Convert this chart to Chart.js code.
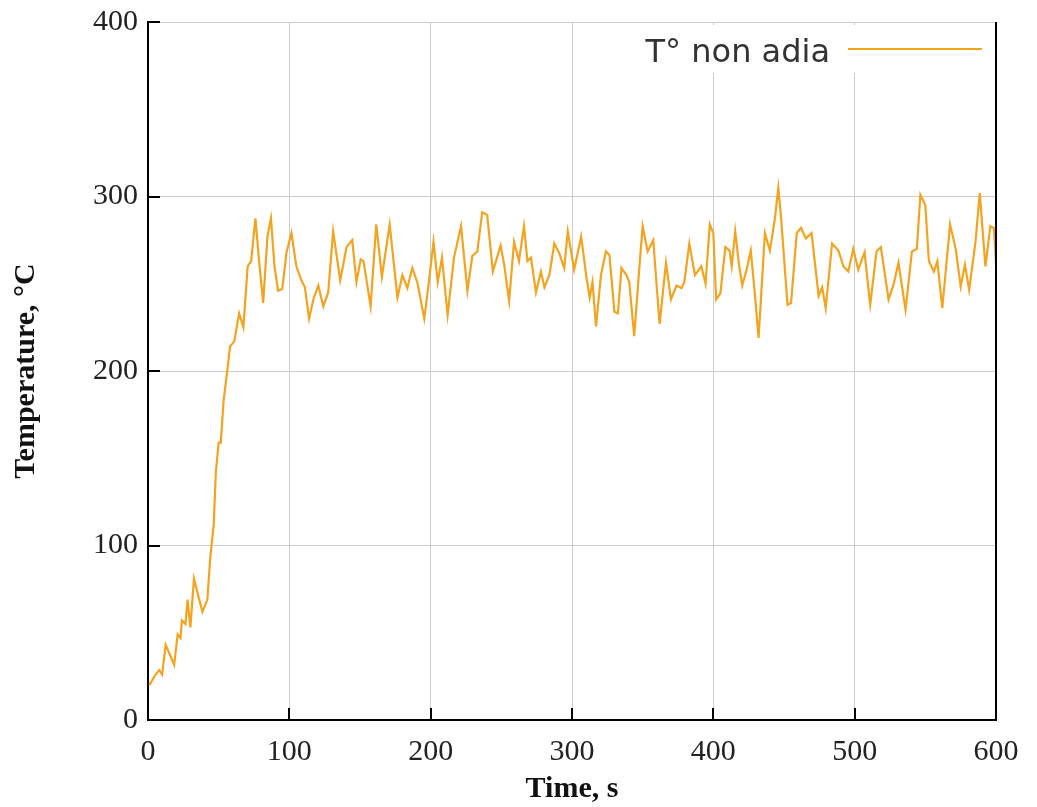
<!DOCTYPE html>
<html lang="en">
<head>
    <meta charset="UTF-8">
    <title>Temperature non adia</title>
    <script src="https://cdn.jsdelivr.net/npm/chart.js"></script>
    <style>
        html, body { margin: 0; padding: 0; background: #fff; }
        #wrap { width: 1037px; height: 807px; }
    </style>
</head>
<body>
    <div id="wrap"><canvas id="tempChart" width="1037" height="807"></canvas></div>

    <script>
        // time (s) and temperature (°C)
        const timeS = [
            1, 5, 8, 10, 12.5, 16, 18.5, 21, 23, 24, 26.5, 28, 30, 32.5, 35, 38.5, 42, 44, 46.5, 48,
            50, 51.5, 53.5, 56.5,
            58, 61, 64.5, 67.5, 70.5, 73, 76, 78.5, 81.5, 84.5, 87, 89.5, 92, 95, 98, 101.5, 105,
            108.5, 111, 114, 117, 120.5, 124, 127.5, 131, 136, 140.5,
            144.5, 147.5, 150.5, 152.5, 157.5, 161.5, 165.5, 171, 176.5, 180, 183.5, 187,
            190.5, 195.5, 199, 202, 205, 208, 212, 216.5, 221.5, 226, 229.5, 233, 236.5, 240, 244,
            249.5, 252, 255.5, 259, 262.5, 266, 268.5, 271, 274.5, 278, 280.5, 284, 287.5, 291,
            294.5, 297,
            301.5, 306.5, 310, 312.5, 314.5, 317, 320.5, 324, 326.5, 330, 332.5, 335, 338.5, 340.5,
            344, 348, 350, 353.5, 357.5, 359.5, 362, 366.5, 370, 374, 377.5, 379.5, 383, 387,
            391.5, 394.5, 397.5, 400, 402, 405, 408.5, 411.5, 413, 415.5, 418, 420.5, 423.5, 426.5,
            429.5, 432, 436.5, 440, 443.5, 446, 448, 452.5, 455, 459, 462, 465.5, 469.5, 474.5,
            477, 479.5, 484, 488.5, 492, 495.5, 499, 502.5, 507, 511,
            515.5, 518.5, 524, 527.5, 531, 536, 540.5, 544, 546.5, 550, 552.5, 556, 558.5, 562, 567.5,
            571.5, 575, 578, 581, 585.5, 588.5, 592.5, 596, 598.5, 600
        ];
        const tempC = [
            20, 25.6, 28.6, 26, 43, 36.5, 31.6, 49, 47, 57, 55, 69, 53, 81, 73, 62, 69, 92.5, 112, 142,
            159, 159, 183, 203,
            214, 217, 233, 225, 260, 263, 287.5, 264, 239, 277, 287.5, 260, 246, 247, 268, 279, 260,
            252, 248, 230, 241, 249, 237, 245, 280, 252, 271,
            275, 251, 264, 263, 237, 284, 254, 284, 242, 255, 247.5, 259,
            251, 230, 253, 274, 251, 265, 232, 265, 283, 246, 266, 268.5, 291, 289.5, 257,
            272, 261, 240, 274, 263, 283, 263, 265, 245, 257, 248, 255, 273, 267.5,
            259, 280,
            258, 277, 255, 242, 251, 225.5, 255, 268.5, 266.5, 234, 233, 259, 255, 251,
            220, 263, 283, 268.5, 275, 253, 227, 262, 241, 249, 247.5, 251, 273, 255,
            260, 250, 284, 279, 241, 244.5, 271, 269, 260, 280, 262, 249, 258, 269,
            243, 219, 279, 269, 287, 305, 287, 238, 239, 279, 282, 276, 279, 243,
            248, 236, 273, 269, 260, 257, 270, 258, 268, 238,
            268.5, 271, 241, 249.5, 262, 235, 268.5, 270, 301, 295, 263, 257, 263, 236, 284,
            270, 248.5, 261, 246.5, 274, 302, 260, 283, 282, 262
        ];
        const xTicks = [0, 100, 200, 300, 400, 500, 600];
        const yTicks = [0, 100, 200, 300, 400];
        const seriesLabel = 'T° non adia';

        const points = timeS.map((t, i) => ({ x: t, y: tempC[i] }));

        // frame extras: white legend box, inward tick marks, right border
        const framePlugin = {
            id: 'frame',
            afterDraw(chart) {
                const ctx = chart.ctx;
                const area = chart.chartArea;
                const xs = chart.scales.x, ys = chart.scales.y;
                ctx.save();
                ctx.strokeStyle = '#000';
                ctx.lineWidth = 2;
                ctx.beginPath();
                xTicks.forEach(v => {
                    const px = Math.round(xs.getPixelForValue(v));
                    ctx.moveTo(px, area.bottom);
                    ctx.lineTo(px, area.bottom - 12);
                });
                yTicks.forEach(v => {
                    const py = Math.round(ys.getPixelForValue(v));
                    ctx.moveTo(area.left, py);
                    ctx.lineTo(area.left + 12, py);
                });
                ctx.moveTo(area.right, area.top);
                ctx.lineTo(area.right, area.bottom + 1);
                ctx.stroke();

                // legend
                ctx.fillStyle = '#fff';
                ctx.fillRect(636, 25, 354, 48);
                ctx.font = '32px "DejaVu Sans"';
                ctx.fillStyle = '#333';
                ctx.textAlign = 'right';
                ctx.textBaseline = 'alphabetic';
                ctx.fillText(seriesLabel, 830, 62);
                ctx.strokeStyle = '#f4a31e';
                ctx.lineWidth = 2;
                ctx.beginPath();
                ctx.moveTo(848, 49);
                ctx.lineTo(982, 49);
                ctx.stroke();
                ctx.restore();
            }
        };

        new Chart(document.getElementById('tempChart'), {
            type: 'line',
            data: {
                datasets: [{
                    label: seriesLabel,
                    data: points,
                    borderColor: '#f4a31e',
                    borderWidth: 2.2,
                    pointRadius: 0,
                    tension: 0,
                    fill: false
                }]
            },
            options: {
                responsive: false,
                animation: false,
                layout: { padding: { left: 0, right: 41, top: 22, bottom: 0 } },
                plugins: {
                    legend: { display: false },
                    tooltip: { enabled: false }
                },
                scales: {
                    x: {
                        type: 'linear',
                        min: 0,
                        max: 600,
                        afterFit: s => { s.height = 87; s.paddingLeft = 0; s.paddingRight = 0; },
                        afterBuildTicks: s => { s.ticks = xTicks.map(v => ({ value: v })); },
                        ticks: {
                            font: { family: '"Liberation Serif"', size: 30 },
                            color: '#222',
                            padding: 14,
                            maxRotation: 0
                        },
                        grid: { color: '#cccccc', lineWidth: 1, drawTicks: false },
                        border: { color: '#000', width: 2 },
                        title: {
                            display: true,
                            text: 'Time, s',
                            font: { family: '"Liberation Serif"', size: 30, weight: 'bold' },
                            color: '#111',
                            padding: { top: 0, bottom: 0 }
                        }
                    },
                    y: {
                        min: 0,
                        max: 400,
                        afterFit: s => { s.width = 148; s.paddingTop = 0; s.paddingBottom = 0; },
                        afterBuildTicks: s => { s.ticks = yTicks.map(v => ({ value: v })); },
                        ticks: {
                            font: { family: '"Liberation Serif"', size: 30 },
                            color: '#222',
                            padding: 10
                        },
                        grid: { color: '#cccccc', lineWidth: 1, drawTicks: false },
                        border: { color: '#000', width: 2 },
                        title: {
                            display: true,
                            text: 'Temperature, °C',
                            font: { family: '"Liberation Serif"', size: 30, weight: 'bold' },
                            color: '#111',
                            padding: { top: 8, bottom: 0 }
                        }
                    }
                }
            },
            plugins: [framePlugin]
        });
    </script>
</body>
</html>
